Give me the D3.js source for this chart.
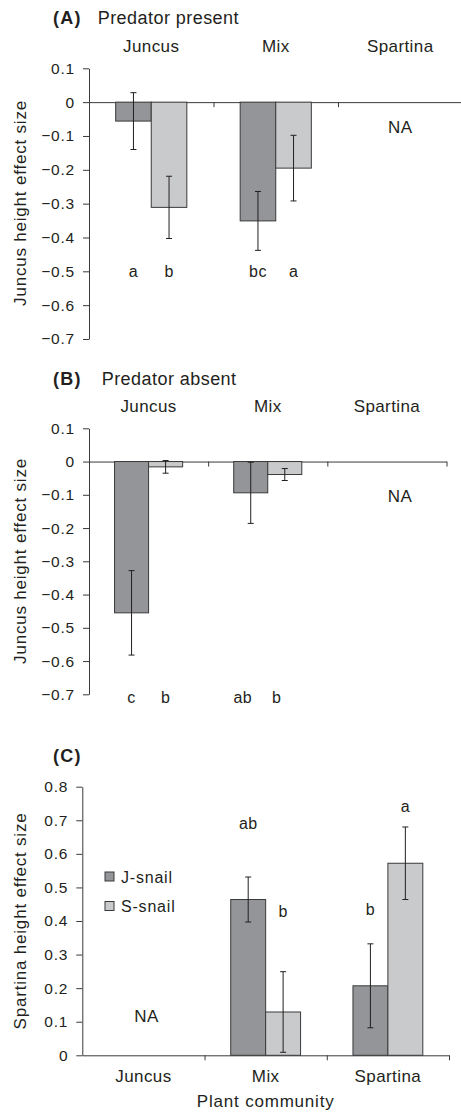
<!DOCTYPE html>
<html><head><meta charset="utf-8">
<script src="https://cdn.jsdelivr.net/npm/d3@7"></script>
<style>
body{margin:0;background:#fff;}
svg text{font-family:"Liberation Sans",Arial,sans-serif;fill:#231f20;}
</style></head>
<body><svg id="c" width="461" height="1112"></svg>
<script>
const categories = ["Juncus","Mix","Spartina"];
const series = ["J-snail","S-snail"];
// Panel A: Predator present (Juncus height effect size)
const aJ = [-0.056, -0.351, 0];
const aS = [-0.311, -0.195, 0];
const aJerr = [0.084, 0.087, 0];
const aSerr = [0.092, 0.097, 0];
const aLetters = [["a","b"],["bc","a"],["",""]];
// Panel B: Predator absent
const bJ = [-0.455, -0.094, 0];
const bS = [-0.016, -0.039, 0];
const bJerr = [0.127, 0.092, 0];
const bSerr = [0.019, 0.018, 0];
const bLetters = [["c","b"],["ab","b"],["",""]];
// Panel C: Spartina height effect size
const cJ = [0, 0.464, 0.207];
const cS = [0, 0.129, 0.572];
const cJerr = [0, 0.067, 0.125];
const cSerr = [0, 0.12, 0.108];
const cLetters = [["",""],["ab","b"],["b","a"]];
const cLetterLevel = [[0,0],[0.673,0.412],[0.417,0.726]];
const yTicksNeg = [0.1,0,-0.1,-0.2,-0.3,-0.4,-0.5,-0.6,-0.7];
const yTicksPos = [0,0.1,0.2,0.3,0.4,0.5,0.6,0.7,0.8];

const colors = {"J-snail":"#939598","S-snail":"#c9cacc"};
const svg = d3.select("#c");
const fmt = d => Math.abs(d) < 1e-9 ? "0" : d3.format(".1f")(d);

function panel(cfg){
  const g = svg.append("g");
  const x0 = d3.scaleBand().domain(categories).range([cfg.x0, cfg.x1]).padding(0);
  const x1 = d3.scaleBand().domain(series).range([0, x0.bandwidth()]).paddingInner(0).paddingOuter(0.75);
  const y = d3.scaleLinear().domain(cfg.domain).range(cfg.yr);
  // y axis
  const ya = g.append("g").attr("transform",`translate(${cfg.x0},0)`)
    .call(d3.axisLeft(y).tickValues(cfg.ticks).tickFormat(fmt).tickSize(6).tickSizeOuter(0).tickPadding(8));
  ya.select(".domain").attr("stroke","#3a3a3a");
  ya.selectAll(".tick line").attr("stroke","#3a3a3a");
  ya.selectAll("text").style("font-size","15.5px").style("letter-spacing","0.8px").attr("fill","#231f20");
  // x axis at zero
  const xi = d3.scaleLinear().domain([0,3]).range([cfg.x0, cfg.x1]);
  const xa = g.append("g").attr("transform",`translate(0,${y(0)})`)
    .call(d3.axisBottom(xi).tickValues([1,2,3]).tickFormat("").tickSize(5).tickSizeOuter(0));
  xa.select(".domain").attr("stroke","#3a3a3a");
  xa.selectAll(".tick line").attr("stroke","#3a3a3a");
  // bars
  const rows = [];
  categories.forEach((c,i)=>{
    rows.push({c, s:series[0], v:cfg.J[i], e:cfg.Je[i], l:cfg.letters[i][0], ly:cfg.levels[i][0]});
    rows.push({c, s:series[1], v:cfg.S[i], e:cfg.Se[i], l:cfg.letters[i][1], ly:cfg.levels[i][1]});
  });
  const bx = d => x0(d.c) + x1(d.s);
  g.selectAll("rect.bar").data(rows).join("rect").attr("class","bar")
    .attr("x", bx).attr("width", x1.bandwidth())
    .attr("y", d => Math.min(y(d.v), y(0))).attr("height", d => Math.abs(y(d.v)-y(0)))
    .attr("fill", d => colors[d.s]).attr("stroke","#3a3a3a").attr("stroke-width",1);
  const er = rows.filter(d => d.e > 0);
  const cx = d => bx(d) + x1.bandwidth()/2;
  g.selectAll("line.err").data(er).join("line").attr("class","err")
    .attr("x1",cx).attr("x2",cx).attr("y1",d=>y(d.v+d.e)).attr("y2",d=>y(d.v-d.e))
    .attr("stroke","#231f20").attr("stroke-width",1);
  [1,-1].forEach(sg=>{
    g.selectAll("line.cap"+sg).data(er).join("line")
      .attr("x1",d=>cx(d)-3).attr("x2",d=>cx(d)+3)
      .attr("y1",d=>y(d.v+sg*d.e)).attr("y2",d=>y(d.v+sg*d.e))
      .attr("stroke","#231f20").attr("stroke-width",1);
  });
  // letters
  g.selectAll("text.let").data(rows.filter(d=>d.l)).join("text")
    .attr("x", d => cx(d) + (cfg.letterDx ? cfg.letterDx(d) : 0)).attr("y", d => y(d.ly))
    .attr("text-anchor","middle").style("font-size","16px").style("letter-spacing","0.4px").text(d=>d.l);
  // category labels
  g.selectAll("text.cat").data(categories).join("text")
    .attr("x", d => x0(d) + x0.bandwidth()/2).attr("y", cfg.catY)
    .attr("text-anchor","middle").style("font-size","17px").style("letter-spacing","0.4px").text(d=>d);
  // NA
  g.append("text").attr("x", x0(cfg.naCat) + x0.bandwidth()/2 + cfg.naDx).attr("y", y(cfg.naVal))
    .attr("text-anchor","middle").style("font-size","17px").style("letter-spacing","0.4px").text("NA");
  // title
  const t = g.append("text").attr("x",53).attr("y",cfg.titleY).style("font-size","18px");
  t.append("tspan").style("font-weight","bold").style("letter-spacing","1.2px").text(cfg.tag);
  t.append("tspan").attr("x",cfg.titleX).style("letter-spacing","0.45px").text(cfg.title);
  // y label
  g.append("text").attr("transform",`translate(26,${cfg.ylabY}) rotate(-90)`)
    .attr("text-anchor","middle").style("font-size","17px").style("letter-spacing","0.8px").text(cfg.ylab);
  return {x0,x1,y,g};
}

const lvA = [[-0.518,-0.518],[-0.518,-0.518],[0,0]];
const lvB = [[-0.727,-0.727],[-0.727,-0.727],[0,0]];

panel({x0:89, x1:462.5, domain:[-0.7,0.1], yr:[339,68.3], ticks:yTicksNeg,
  J:aJ, S:aS, Je:aJerr, Se:aSerr, letters:aLetters, levels:lvA,
  catY:52, naCat:"Spartina", naDx:0, naVal:-0.092,
  titleY:24, titleX:97.7, tag:"(A)", title:"Predator present", ylab:"Juncus height effect size", ylabY:203});

panel({x0:89, x1:446.5, domain:[-0.7,0.1], yr:[694.3,428.3], ticks:yTicksNeg,
  J:bJ, S:bS, Je:bJerr, Se:bSerr, letters:bLetters, levels:lvB,
  letterDx: d => d.c === "Mix" ? -8 : 0,
  catY:412, naCat:"Spartina", naDx:13, naVal:-0.122,
  titleY:385, titleX:101.7, tag:"(B)", title:"Predator absent", ylab:"Juncus height effect size", ylabY:561});

panel({x0:82.3, x1:449, domain:[0,0.8], yr:[1055.3,786.7], ticks:yTicksPos,
  J:cJ, S:cS, Je:cJerr, Se:cSerr, letters:cLetters, levels:cLetterLevel,
  catY:1082, naCat:"Juncus", naDx:3, naVal:0.098,
  titleY:762, titleX:0, tag:"(C)", title:"", ylab:"Spartina height effect size", ylabY:921});

// x axis title
svg.append("text").attr("x",265.7).attr("y",1107).attr("text-anchor","middle")
  .style("font-size","17px").style("letter-spacing","0.8px").text("Plant community");

// legend
const lg = svg.append("g");
lg.selectAll("rect").data(series).join("rect")
  .attr("x",105).attr("y",(d,i)=>872+i*29.5).attr("width",9).attr("height",9)
  .attr("fill",d=>colors[d]).attr("stroke","#3a3a3a");
lg.selectAll("text").data(series).join("text")
  .attr("x",121).attr("y",(d,i)=>882.5+i*29.5)
  .style("font-size","16px").style("letter-spacing","0.8px").text(d=>d);
</script></body></html>
